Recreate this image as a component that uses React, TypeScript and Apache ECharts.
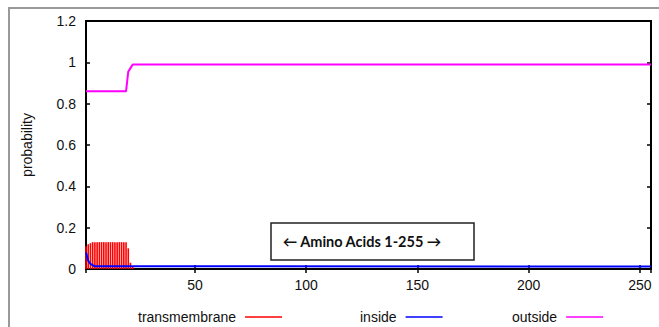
import React, { useEffect, useRef } from "react";
import * as echarts from "echarts";

// Transmembrane probability per residue (impulses), residues 1..22
const tmPositions = [1, 2, 3, 4, 5, 6, 7, 8, 9, 10, 11, 12, 13, 14, 15, 16, 17, 18, 19, 20, 21, 22];
const tmValues = [0.11, 0.12, 0.125, 0.13, 0.13, 0.13, 0.13, 0.13, 0.13, 0.13, 0.13, 0.13, 0.13, 0.13, 0.13, 0.13, 0.13, 0.13, 0.13, 0.10, 0.03, 0.01];

// Inside probability (change points)
const insidePositions = [1, 2, 3, 4, 5, 255];
const insideValues = [0.08, 0.04, 0.025, 0.018, 0.013, 0.012];

// Outside probability (change points)
const outsidePositions = [1, 19, 20, 22, 255];
const outsideValues = [0.86, 0.86, 0.955, 0.99, 0.99];

const seriesNames = ["transmembrane", "inside", "outside"];
const seriesColors = ["#ff0000", "#0000ff", "#ff00ff"];

const annotation = "\u2190 Amino Acids 1-255 \u2192";
const yAxisTitle = "probability";

const FONT = "'Liberation Sans', Arial, sans-serif";

export default function App() {
  const ref = useRef<HTMLDivElement>(null);
  useEffect(() => {
    if (!ref.current) return;
    const chart = echarts.init(ref.current, null, { renderer: "svg" });
    const zip = (xs: number[], ys: number[]) => xs.map((x, i) => [x, ys[i]]);
    const legendLefts = [133, 355, 507];
    const option: any = {
      animation: false,
      backgroundColor: "#fff",
      textStyle: { fontFamily: FONT },
      grid: {
        left: 86,
        right: 8,
        top: 21,
        bottom: 58,
        show: true,
        borderColor: "#000",
        borderWidth: 2,
        backgroundColor: "transparent",
      },
      legend: seriesNames.map((n, i) => ({
        data: [{ name: n, icon: "rect" }],
        left: legendLefts[i],
        top: 305,
        align: "right",
        itemWidth: 37,
        itemHeight: 1.6,
        itemGap: 0,
        selectedMode: false,
        textStyle: { fontFamily: FONT, fontSize: 14, color: "#111", padding: [0, 4, 0, 0] },
      })),
      xAxis: [
        {
          type: "value",
          min: 1,
          max: 255,
          splitNumber: 5,
          axisLine: { show: false },
          axisTick: { show: true, inside: true, length: 4, lineStyle: { color: "#000", width: 1.5 } },
          axisLabel: { showMinLabel: false, showMaxLabel: false, margin: 9, fontFamily: FONT, fontSize: 14, color: "#111" },
          splitLine: { show: false },
        },
        {
          type: "value",
          position: "top",
          min: 1,
          max: 255,
          splitNumber: 5,
          axisLine: { show: false },
          axisTick: { show: true, inside: true, length: 4, lineStyle: { color: "#000", width: 1.5 } },
          axisLabel: { show: false },
          splitLine: { show: false },
        },
      ],
      yAxis: [
        {
          type: "value",
          min: 0,
          max: 1.2,
          interval: 0.2,
          name: yAxisTitle,
          nameLocation: "middle",
          nameGap: 52,
          nameTextStyle: { fontFamily: FONT, fontSize: 14, color: "#111" },
          axisLine: { show: false },
          axisTick: { show: true, inside: true, length: 4, lineStyle: { color: "#000", width: 1.5 } },
          axisLabel: { margin: 10, fontFamily: FONT, fontSize: 14, color: "#111" },
          splitLine: { show: false },
        },
        {
          type: "value",
          position: "right",
          min: 0,
          max: 1.2,
          interval: 0.2,
          axisLine: { show: false },
          axisTick: { show: true, inside: true, length: 4, lineStyle: { color: "#000", width: 1.5 } },
          axisLabel: { show: false },
          splitLine: { show: false },
        },
      ],
      series: [
        {
          name: seriesNames[0],
          type: "bar",
          data: zip(tmPositions, tmValues),
          barWidth: 1.6,
          itemStyle: { color: seriesColors[0] },
          z: 2,
        },
        {
          name: seriesNames[1],
          type: "line",
          data: zip(insidePositions, insideValues),
          showSymbol: false,
          symbol: "none",
          lineStyle: { color: seriesColors[1], width: 2 },
          itemStyle: { color: seriesColors[1] },
          z: 3,
        },
        {
          name: seriesNames[2],
          type: "line",
          data: zip(outsidePositions, outsideValues),
          showSymbol: false,
          symbol: "none",
          lineStyle: { color: seriesColors[2], width: 2 },
          itemStyle: { color: seriesColors[2] },
          z: 3,
        },
      ],
      graphic: [
        { type: "line", shape: { x1: 9, y1: 8, x2: 9, y2: 327 }, style: { stroke: "#999", lineWidth: 2 }, z: 10 },
        { type: "line", shape: { x1: 8, y1: 8, x2: 659, y2: 8 }, style: { stroke: "#999", lineWidth: 2 }, z: 10 },
        {
          type: "rect",
          shape: { x: 271, y: 223, width: 203, height: 37 },
          style: { fill: "#fff", stroke: "#222", lineWidth: 1.5 },
          z: 10,
        },
        {
          type: "text",
          x: 362,
          y: 241,
          style: {
            text: annotation,
            font: "bold 14.5px Lato, 'Open Sans', sans-serif",
            fill: "#111",
            align: "center",
            verticalAlign: "middle",
          },
          z: 11,
        },
      ],
    };
    chart.setOption(option);
    return () => chart.dispose();
  }, []);
  return (
    <div
      ref={ref}
      style={{ position: "absolute", left: 0, top: 0, width: 659, height: 327, background: "#fff" }}
    />
  );
}
